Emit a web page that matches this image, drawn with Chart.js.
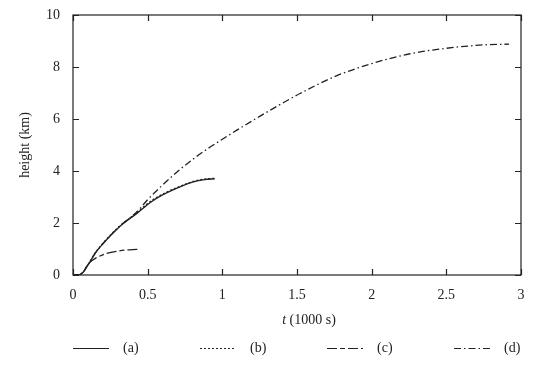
<!DOCTYPE html>
<html>
<head>
<meta charset="utf-8">
<script src="https://cdn.jsdelivr.net/npm/chart.js@4/dist/chart.umd.min.js"></script>
<style>
html,body{margin:0;padding:0;background:#fff;}
#wrap{width:546px;height:368px;position:relative;}
</style>
</head>
<body>
<div id="wrap"><canvas id="c" width="546" height="368"></canvas></div>
<script>
// ---- data (t in 1000 s, height in km) ----
const seriesLabels = ["(a)", "(b)", "(c)", "(d)"];
const tA = [0, 0.03, 0.05, 0.07, 0.09, 0.114, 0.15, 0.2, 0.31, 0.43, 0.52, 0.6, 0.72, 0.8, 0.88, 0.95];
const hA = [0, 0, 0.03, 0.12, 0.3, 0.51, 0.85, 1.2, 1.85, 2.38, 2.8, 3.08, 3.4, 3.57, 3.67, 3.7];
const tB = [0, 0.03, 0.05, 0.07, 0.09, 0.114, 0.15, 0.2, 0.31, 0.43, 0.52, 0.6, 0.72, 0.8, 0.88, 0.95];
const hB = [0, 0, 0.03, 0.13, 0.31, 0.52, 0.86, 1.22, 1.87, 2.41, 2.84, 3.11, 3.42, 3.59, 3.69, 3.72];
const tC = [0, 0.03, 0.05, 0.07, 0.09, 0.114, 0.15, 0.22, 0.31, 0.38, 0.45];
const hC = [0, 0, 0.03, 0.12, 0.3, 0.49, 0.64, 0.82, 0.93, 0.97, 0.99];
const tD = [0, 0.03, 0.05, 0.07, 0.09, 0.114, 0.15, 0.2, 0.31, 0.43, 0.5, 0.6, 0.7, 0.8, 0.9, 1.0, 1.1, 1.25, 1.4, 1.52, 1.76, 2.0, 2.25, 2.5, 2.75, 2.92];
const hD = [0, 0, 0.03, 0.12, 0.3, 0.51, 0.85, 1.2, 1.86, 2.44, 2.9, 3.46, 3.98, 4.44, 4.85, 5.22, 5.58, 6.1, 6.6, 6.98, 7.65, 8.13, 8.5, 8.72, 8.85, 8.88];
const xTicks = [0, 0.5, 1, 1.5, 2, 2.5, 3];
const yTicks = [0, 2, 4, 6, 8, 10];
const xTitleItalic = "t";
const xTitleRest = " (1000 s)";
const yTitle = "height (km)";

const FONT = "'Liberation Serif', 'DejaVu Serif', serif";
const INK = "#222";

function pts(t, h) { return t.map((v, i) => ({x: v, y: h[i]})); }

const dashes = [[], [2, 2], [10, 3, 5, 3], [7, 3, 1.5, 3]];
const allT = [tA, tB, tC, tD], allH = [hA, hB, hC, hD];

const datasets = seriesLabels.map((lab, i) => ({
  label: lab,
  data: pts(allT[i], allH[i]),
  borderColor: INK,
  borderWidth: 1.3,
  borderDash: dashes[i],
  pointRadius: 0,
  fill: false,
  cubicInterpolationMode: 'monotone'
}));

const decor = {
  id: 'decor',
  afterDraw(chart) {
    const ctx = chart.ctx, a = chart.chartArea;
    const xs = chart.scales.x, ys = chart.scales.y;
    ctx.save();
    ctx.strokeStyle = INK;
    ctx.lineWidth = 1.2;
    ctx.setLineDash([]);
    ctx.strokeRect(a.left, a.top, a.right - a.left, a.bottom - a.top);
    const tl = 6;
    ctx.beginPath();
    xTicks.forEach(v => {
      const px = Math.round(xs.getPixelForValue(v)) + 0.5;
      ctx.moveTo(px, a.bottom); ctx.lineTo(px, a.bottom - tl);
      ctx.moveTo(px, a.top); ctx.lineTo(px, a.top + tl);
    });
    yTicks.forEach(v => {
      const py = Math.round(ys.getPixelForValue(v)) + 0.5;
      ctx.moveTo(a.left, py); ctx.lineTo(a.left + tl, py);
      ctx.moveTo(a.right, py); ctx.lineTo(a.right - tl, py);
    });
    ctx.stroke();

    // axis titles
    ctx.fillStyle = INK;
    ctx.textBaseline = 'middle';
    ctx.font = "italic 14px " + FONT;
    const wI = ctx.measureText(xTitleItalic).width;
    ctx.font = "14px " + FONT;
    const wR = ctx.measureText(xTitleRest).width;
    const cx = 309, cy = 320;
    let sx = cx - (wI + wR) / 2;
    ctx.font = "italic 14px " + FONT;
    ctx.textAlign = 'left';
    ctx.fillText(xTitleItalic, sx, cy);
    ctx.font = "14px " + FONT;
    ctx.fillText(xTitleRest, sx + wI, cy);

    ctx.save();
    ctx.translate(25, (a.top + a.bottom) / 2);
    ctx.rotate(-Math.PI / 2);
    ctx.textAlign = 'center';
    ctx.fillText(yTitle, 0, 0);
    ctx.restore();

    // legend
    const ly = 348;
    chart.data.datasets.forEach((ds, i) => {
      const x0 = 73 + i * 127;
      ctx.beginPath();
      ctx.setLineDash(ds.borderDash || []);
      ctx.lineWidth = 1.2;
      ctx.moveTo(x0, ly + 0.5);
      ctx.lineTo(x0 + 36, ly + 0.5);
      ctx.stroke();
      ctx.setLineDash([]);
      ctx.textAlign = 'left';
      ctx.fillText(ds.label, x0 + 50, ly);
    });
    ctx.restore();
  }
};

new Chart(document.getElementById('c'), {
  type: 'line',
  data: { datasets },
  options: {
    responsive: false,
    animation: false,
    devicePixelRatio: 1,
    layout: { padding: { left: 0, right: 25, top: 15, bottom: 0 } },
    plugins: { legend: { display: false }, tooltip: { enabled: false } },
    scales: {
      x: {
        type: 'linear', min: 0, max: 3,
        afterFit(s) { s.height = 93; },
        afterBuildTicks(s) { s.ticks = xTicks.map(v => ({value: v})); },
        grid: { display: false },
        border: { display: false },
        ticks: { color: INK, font: { family: FONT, size: 14 }, padding: 4, maxRotation: 0,
                 callback: v => String(v) }
      },
      y: {
        type: 'linear', min: 0, max: 10,
        afterFit(s) { s.width = 73; },
        afterBuildTicks(s) { s.ticks = yTicks.map(v => ({value: v})); },
        grid: { display: false },
        border: { display: false },
        ticks: { color: INK, font: { family: FONT, size: 14 }, padding: 5,
                 callback: v => String(v) }
      }
    }
  },
  plugins: [decor]
});
</script>
</body>
</html>
